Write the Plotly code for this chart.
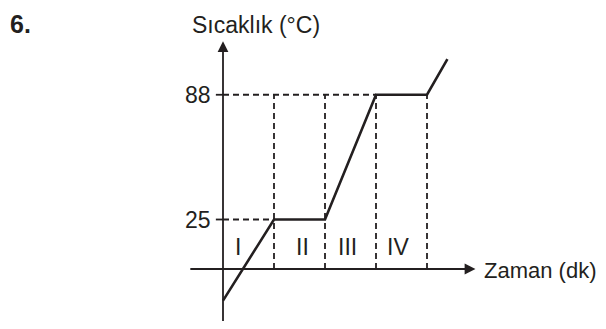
import plotly.graph_objects as go

# Grafik verileri (zaman birimi, sıcaklık °C)
zaman = [0, 1, 2, 3, 4, 4.4]
sicaklik = [-16, 25, 25, 88, 88, 106]

bolge_sinirlari = [1, 2, 3, 4]
etiket_sicakliklar = [25, 88]
bolge_adlari = ['I', 'II', 'III', 'IV']
bolge_x = [0.3, 1.55, 2.45, 3.43]

W, H = 606, 329
OFS = 8  # sayfa gövdesinin kenar boşluğu
x0_px, y0_px = 223 - OFS, 269 - OFS
px_x, px_y = 51, 1.98

xr = [-x0_px / px_x, (W - x0_px) / px_x]
yr = [-(H - y0_px) / px_y, y0_px / px_y]

FONT = 'Liberation Sans, Arial, sans-serif'
RENK = '#231f20'

fig = go.Figure()

# Kesikli yardımcı çizgiler
shapes = []
for t in etiket_sicakliklar:
    x_end = zaman[sicaklik.index(t)]
    shapes.append(dict(type='line', x0=0, x1=x_end, y0=t, y1=t, xref='x', yref='y',
                       line=dict(color=RENK, width=1.8, dash='6px,4px')))
    # küçük çentik
    shapes.append(dict(type='line', x0=-0.14, x1=0, y0=t, y1=t, xref='x', yref='y',
                       line=dict(color=RENK, width=1.8)))
for b in bolge_sinirlari:
    shapes.append(dict(type='line', x0=b, x1=b, y0=0, y1=max(etiket_sicakliklar), xref='x', yref='y',
                       line=dict(color=RENK, width=1.8, dash='6px,4px')))

fig.add_trace(go.Scatter(
    x=zaman, y=sicaklik, mode='lines',
    line=dict(color=RENK, width=2.6),
    showlegend=False, hoverinfo='skip'
))

annotations = []
# eksenler (ok başlı)
annotations.append(dict(x=4.95, y=0, ax=-0.67, ay=0, xref='x', yref='y', axref='x', ayref='y',
                        showarrow=True, arrowhead=2, arrowsize=1.2, arrowwidth=1.8,
                        arrowcolor=RENK, text=''))
annotations.append(dict(x=0, y=115, ax=0, ay=-27, xref='x', yref='y', axref='x', ayref='y',
                        showarrow=True, arrowhead=2, arrowsize=1.2, arrowwidth=1.8,
                        arrowcolor=RENK, text=''))

for t in etiket_sicakliklar:
    annotations.append(dict(x=-0.2, y=t, xref='x', yref='y', text=str(t), showarrow=False,
                            xanchor='right', yanchor='middle', font=dict(size=23, family=FONT, color=RENK)))
for ad, bx in zip(bolge_adlari, bolge_x):
    annotations.append(dict(x=bx, y=11, xref='x', yref='y', text=ad, showarrow=False,
                            xanchor='center', yanchor='middle', font=dict(size=23, family=FONT, color=RENK)))

annotations.append(dict(x=0.65, y=123, xref='x', yref='y', text='Sıcaklık (°C)', showarrow=False,
                        xanchor='center', yanchor='middle', font=dict(size=23, family=FONT, color=RENK)))
annotations.append(dict(x=5.08, y=-1, xref='x', yref='y', text='Zaman (dk)', showarrow=False,
                        xanchor='left', yanchor='middle', font=dict(size=22, family=FONT, color=RENK)))
annotations.append(dict(x=0, y=1, xref='paper', yref='paper', text='<b>6.</b>', showarrow=False,
                        xanchor='left', yanchor='top', font=dict(size=25, family=FONT, color=RENK)))

fig.update_layout(
    width=W, height=H,
    margin=dict(l=0, r=0, t=0, b=0),
    paper_bgcolor='white', plot_bgcolor='white',
    xaxis=dict(range=xr, visible=False, fixedrange=True),
    yaxis=dict(range=yr, visible=False, fixedrange=True),
    shapes=shapes, annotations=annotations,
)

fig.write_html("out.html")
